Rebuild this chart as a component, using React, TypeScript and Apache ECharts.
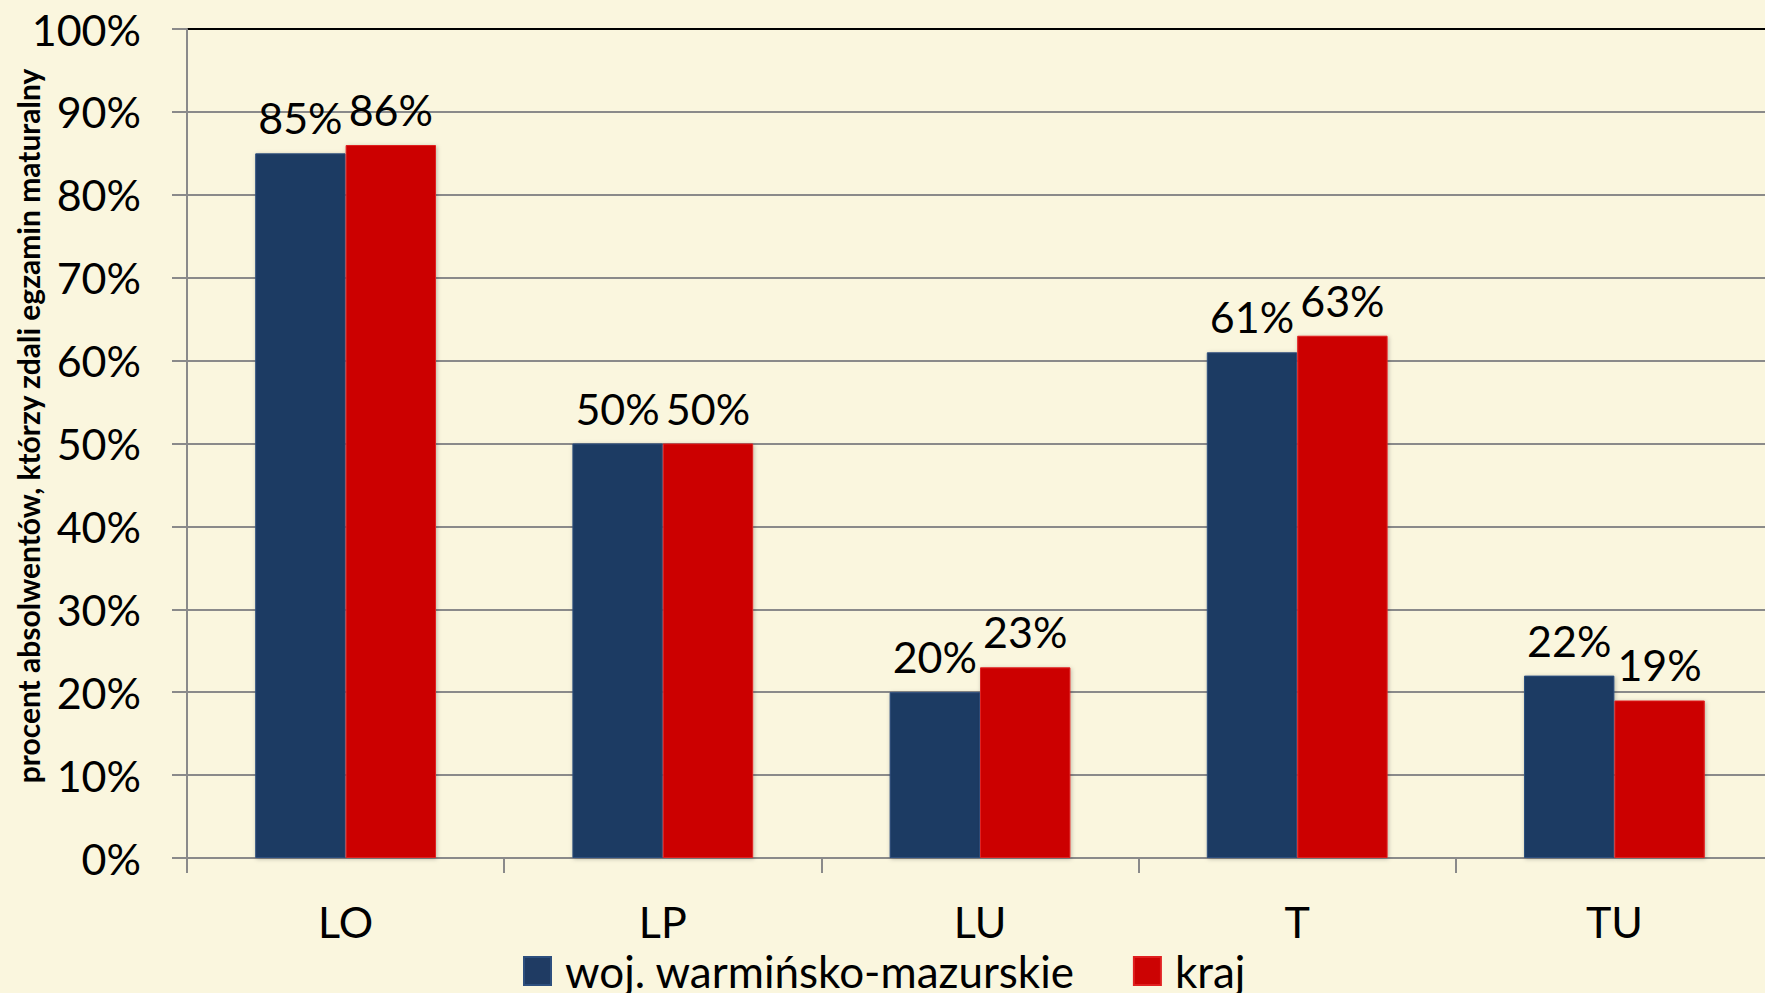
import React, { useEffect, useRef } from "react";
import * as echarts from "echarts";

const categories = ["LO", "LP", "LU", "T", "TU"];
const seriesNames = ["woj. warmińsko-mazurskie", "kraj"];
const regionValues = [85, 50, 20, 61, 22];
const countryValues = [86, 50, 23, 63, 19];
const yTitle = "procent absolwentów, którzy zdali egzamin maturalny";

const FONT = "Lato";

export default function App() {
  const ref = useRef<HTMLDivElement>(null);
  useEffect(() => {
    if (!ref.current) return;
    const chart = echarts.init(ref.current, undefined, { renderer: "svg" });
    const gridColors = Array.from({ length: 11 }, (_, i) => (i === 10 ? "#000000" : "#8a8a8a"));
    const labelStyle = {
      show: true,
      position: "top",
      distance: 14,
      formatter: "{c}%",
      fontFamily: FONT,
      fontSize: 43,
      color: "#000",
    };
    chart.setOption({
      animation: false,
      backgroundColor: "#FAF6DE",
      textStyle: { fontFamily: FONT },
      grid: { left: 187, top: 29, width: 1586, height: 829, containLabel: false },
      legend: {
        left: 518,
        top: 944,
        itemWidth: 27,
        itemHeight: 28,
        itemGap: 58,
        icon: "rect",
        textStyle: { fontFamily: FONT, fontSize: 44, lineHeight: 44, color: "#000", padding: [0, 0, 0, 9] },
        data: seriesNames,
      },
      graphic: [
        {
          type: "text",
          x: 28,
          y: 426,
          rotation: Math.PI / 2,
          style: {
            text: yTitle,
            fontFamily: FONT,
            fontWeight: "bold",
            fontSize: 30,
            fill: "#000",
            align: "center",
            verticalAlign: "middle",
          },
        },
      ],
      xAxis: {
        type: "category",
        data: categories,
        axisLine: { lineStyle: { color: "#8a8a8a", width: 2 } },
        axisTick: { show: true, length: 15, lineStyle: { color: "#8a8a8a", width: 2 } },
        axisLabel: { fontFamily: FONT, fontSize: 43, color: "#000", margin: 42 },
      },
      yAxis: {
        type: "value",
        min: 0,
        max: 100,
        interval: 10,
        axisLine: { show: true, lineStyle: { color: "#8a8a8a", width: 2 } },
        axisTick: { show: true, length: 15, lineStyle: { color: "#8a8a8a", width: 2 } },
        axisLabel: { fontFamily: FONT, fontSize: 43, color: "#000", margin: 46, formatter: "{value}%" },
        splitLine: { show: true, lineStyle: { color: gridColors, width: 2 } },
      },
      series: [
        {
          name: seriesNames[0],
          type: "bar",
          data: regionValues,
          barGap: "0%",
          barCategoryGap: "43%",
          itemStyle: {
            color: "#1F3B63",
            borderColor: "#2d4f7e",
            borderWidth: 1,
            shadowColor: "rgba(0,0,0,0.25)",
            shadowBlur: 4,
            shadowOffsetX: 1,
            shadowOffsetY: 1,
          },
          label: labelStyle,
        },
        {
          name: seriesNames[1],
          type: "bar",
          data: countryValues,
          itemStyle: {
            color: "#CC0303",
            borderColor: "#e02020",
            borderWidth: 1,
            shadowColor: "rgba(0,0,0,0.25)",
            shadowBlur: 4,
            shadowOffsetX: 1,
            shadowOffsetY: 1,
          },
          label: labelStyle,
        },
      ],
    });
    return () => chart.dispose();
  }, []);
  return (
    <div style={{ position: "fixed", left: 0, top: 0, width: 1765, height: 993, overflow: "hidden" }}>
      <div ref={ref} style={{ width: 1790, height: 993 }} />
    </div>
  );
}
